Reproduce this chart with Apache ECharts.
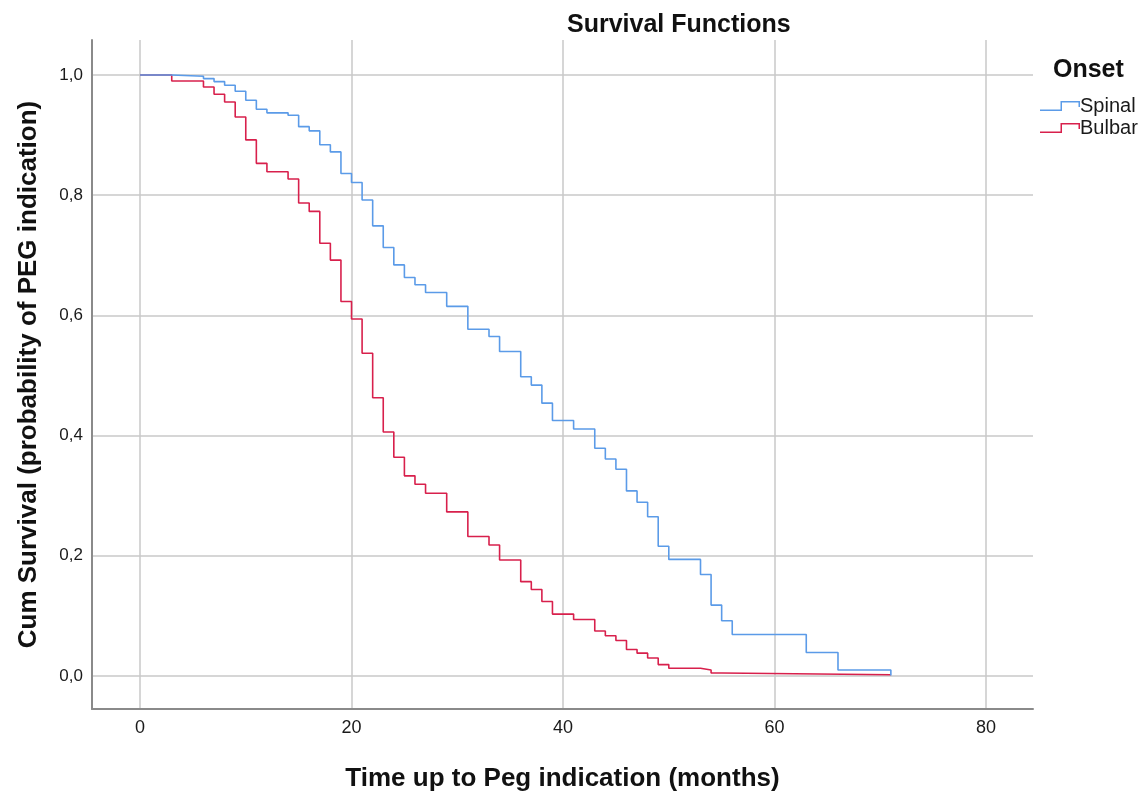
<!DOCTYPE html>
<html>
<head>
<meta charset="utf-8">
<script src="https://cdn.jsdelivr.net/npm/echarts@6/dist/echarts.min.js"></script>
<style>html,body{margin:0;padding:0;background:#fff}#c{width:1148px;height:791px}</style>
</head>
<body>
<div id="c"></div>
<script>
var xTicks = [0, 20, 40, 60, 80];
var yTicks = [0, 0.2, 0.4, 0.6, 0.8, 1.0];
var seriesNames = ['Spinal', 'Bulbar'];
var spinalTime = [0, 3, 6, 7, 8, 9, 10, 11, 12, 14, 15, 16, 17, 18, 19, 20, 21, 22, 23, 24, 25, 26, 27, 29, 31, 33, 34, 36, 37, 38, 39, 41, 43, 44, 45, 46, 47, 48, 49, 50, 53, 54, 55, 56, 63, 66, 71, 71];
var spinalSurv = [1.0, 0.998, 0.994, 0.989, 0.983, 0.973, 0.958, 0.943, 0.937, 0.933, 0.914, 0.907, 0.884, 0.872, 0.836, 0.821, 0.792, 0.749, 0.713, 0.684, 0.663, 0.651, 0.638, 0.615, 0.577, 0.565, 0.540, 0.498, 0.484, 0.454, 0.425, 0.411, 0.379, 0.361, 0.344, 0.308, 0.289, 0.265, 0.216, 0.194, 0.169, 0.118, 0.092, 0.069, 0.039, 0.010, 0.010, 0.001];
var bulbarTime = [0, 3, 6, 7, 8, 9, 10, 11, 12, 14, 15, 16, 17, 18, 19, 20, 21, 22, 23, 24, 25, 26, 27, 29, 31, 33, 34, 36, 37, 38, 39, 41, 43, 44, 45, 46, 47, 48, 49, 50, 53, 54, 55, 71];
var bulbarSurv = [1.0, 0.990, 0.980, 0.968, 0.955, 0.930, 0.892, 0.853, 0.839, 0.827, 0.787, 0.773, 0.720, 0.692, 0.623, 0.594, 0.537, 0.463, 0.406, 0.364, 0.333, 0.319, 0.304, 0.273, 0.232, 0.218, 0.193, 0.157, 0.144, 0.124, 0.103, 0.094, 0.075, 0.067, 0.059, 0.044, 0.038, 0.030, 0.019, 0.013, 0.010, 0.005, 0.002, 0.001];

function zip(a, b) { return a.map(function (v, i) { return [v, b[i]]; }); }
var FONT = '"Liberation Sans", Arial, sans-serif';
var ICON = 'path://M0 8.5 L20.5 8.5 L20.5 0 L40 0 L40 6 L38.5 6 L38.5 1.5 L22 1.5 L22 10 L0 10 Z';
var chart = echarts.init(document.getElementById('c'), null, {renderer: 'canvas'});
chart.setOption({
  animation: false,
  backgroundColor: '#fff',
  title: [
    {text: 'Survival Functions', left: 562, top: 8, textStyle: {fontFamily: FONT, fontSize: 25, fontWeight: 'bold', color: '#111'}},
    {text: 'Onset', left: 1048, top: 53, textStyle: {fontFamily: FONT, fontSize: 25, fontWeight: 'bold', color: '#111'}}
  ],
  legend: {
    orient: 'vertical', left: 1035, top: 91, itemGap: 2, itemWidth: 42, itemHeight: 10,
    data: [
      {name: seriesNames[0], icon: ICON},
      {name: seriesNames[1], icon: ICON}
    ],
    textStyle: {fontFamily: FONT, fontSize: 20, color: '#1a1a1a', padding: [0, 0, 0, -6]}
  },
  grid: {left: 92, right: 115, top: 40, bottom: 82, containLabel: false, outerBoundsMode: 'none'},
  xAxis: {
    type: 'value', min: -4.54, max: 84.44,
    name: 'Time up to Peg indication (months)', nameLocation: 'middle', nameGap: 57,
    nameTextStyle: {fontFamily: FONT, fontSize: 26, fontWeight: 'bold', color: '#111'},
    axisLine: {show: true, onZero: false, lineStyle: {color: '#8a8a8a', width: 2}},
    axisTick: {show: false, customValues: xTicks},
    axisLabel: {customValues: xTicks, margin: 10, fontFamily: FONT, fontSize: 18, color: '#1a1a1a'},
    splitLine: {show: true, customValues: xTicks, lineStyle: {color: '#c8c8c8', width: 1.5}}
  },
  yAxis: {
    type: 'value', min: -0.0549, max: 1.0582,
    name: 'Cum Survival (probability of PEG indication)', nameLocation: 'middle', nameGap: 50,
    nameTextStyle: {fontFamily: FONT, fontSize: 26, fontWeight: 'bold', color: '#111'},
    axisLine: {show: true, onZero: false, lineStyle: {color: '#8a8a8a', width: 2}},
    axisTick: {show: false, customValues: yTicks},
    axisLabel: {customValues: yTicks, margin: 9, fontFamily: FONT, fontSize: 17, color: '#1a1a1a',
      formatter: function (v) { return v.toFixed(1).replace('.', ','); }},
    splitLine: {show: true, customValues: yTicks, lineStyle: {color: '#c8c8c8', width: 1.5}}
  },
  series: [
    {name: seriesNames[0], type: 'line', step: 'end', showSymbol: false, data: zip(spinalTime, spinalSurv),
      lineStyle: {color: '#5b9be8', width: 1.6}, itemStyle: {color: '#5b9be8'}, z: 3},
    {name: seriesNames[1], type: 'line', step: 'end', showSymbol: false, data: zip(bulbarTime, bulbarSurv),
      lineStyle: {color: '#d8204c', width: 1.6}, itemStyle: {color: '#d8204c'}, z: 2}
  ]
});
</script>
</body>
</html>
